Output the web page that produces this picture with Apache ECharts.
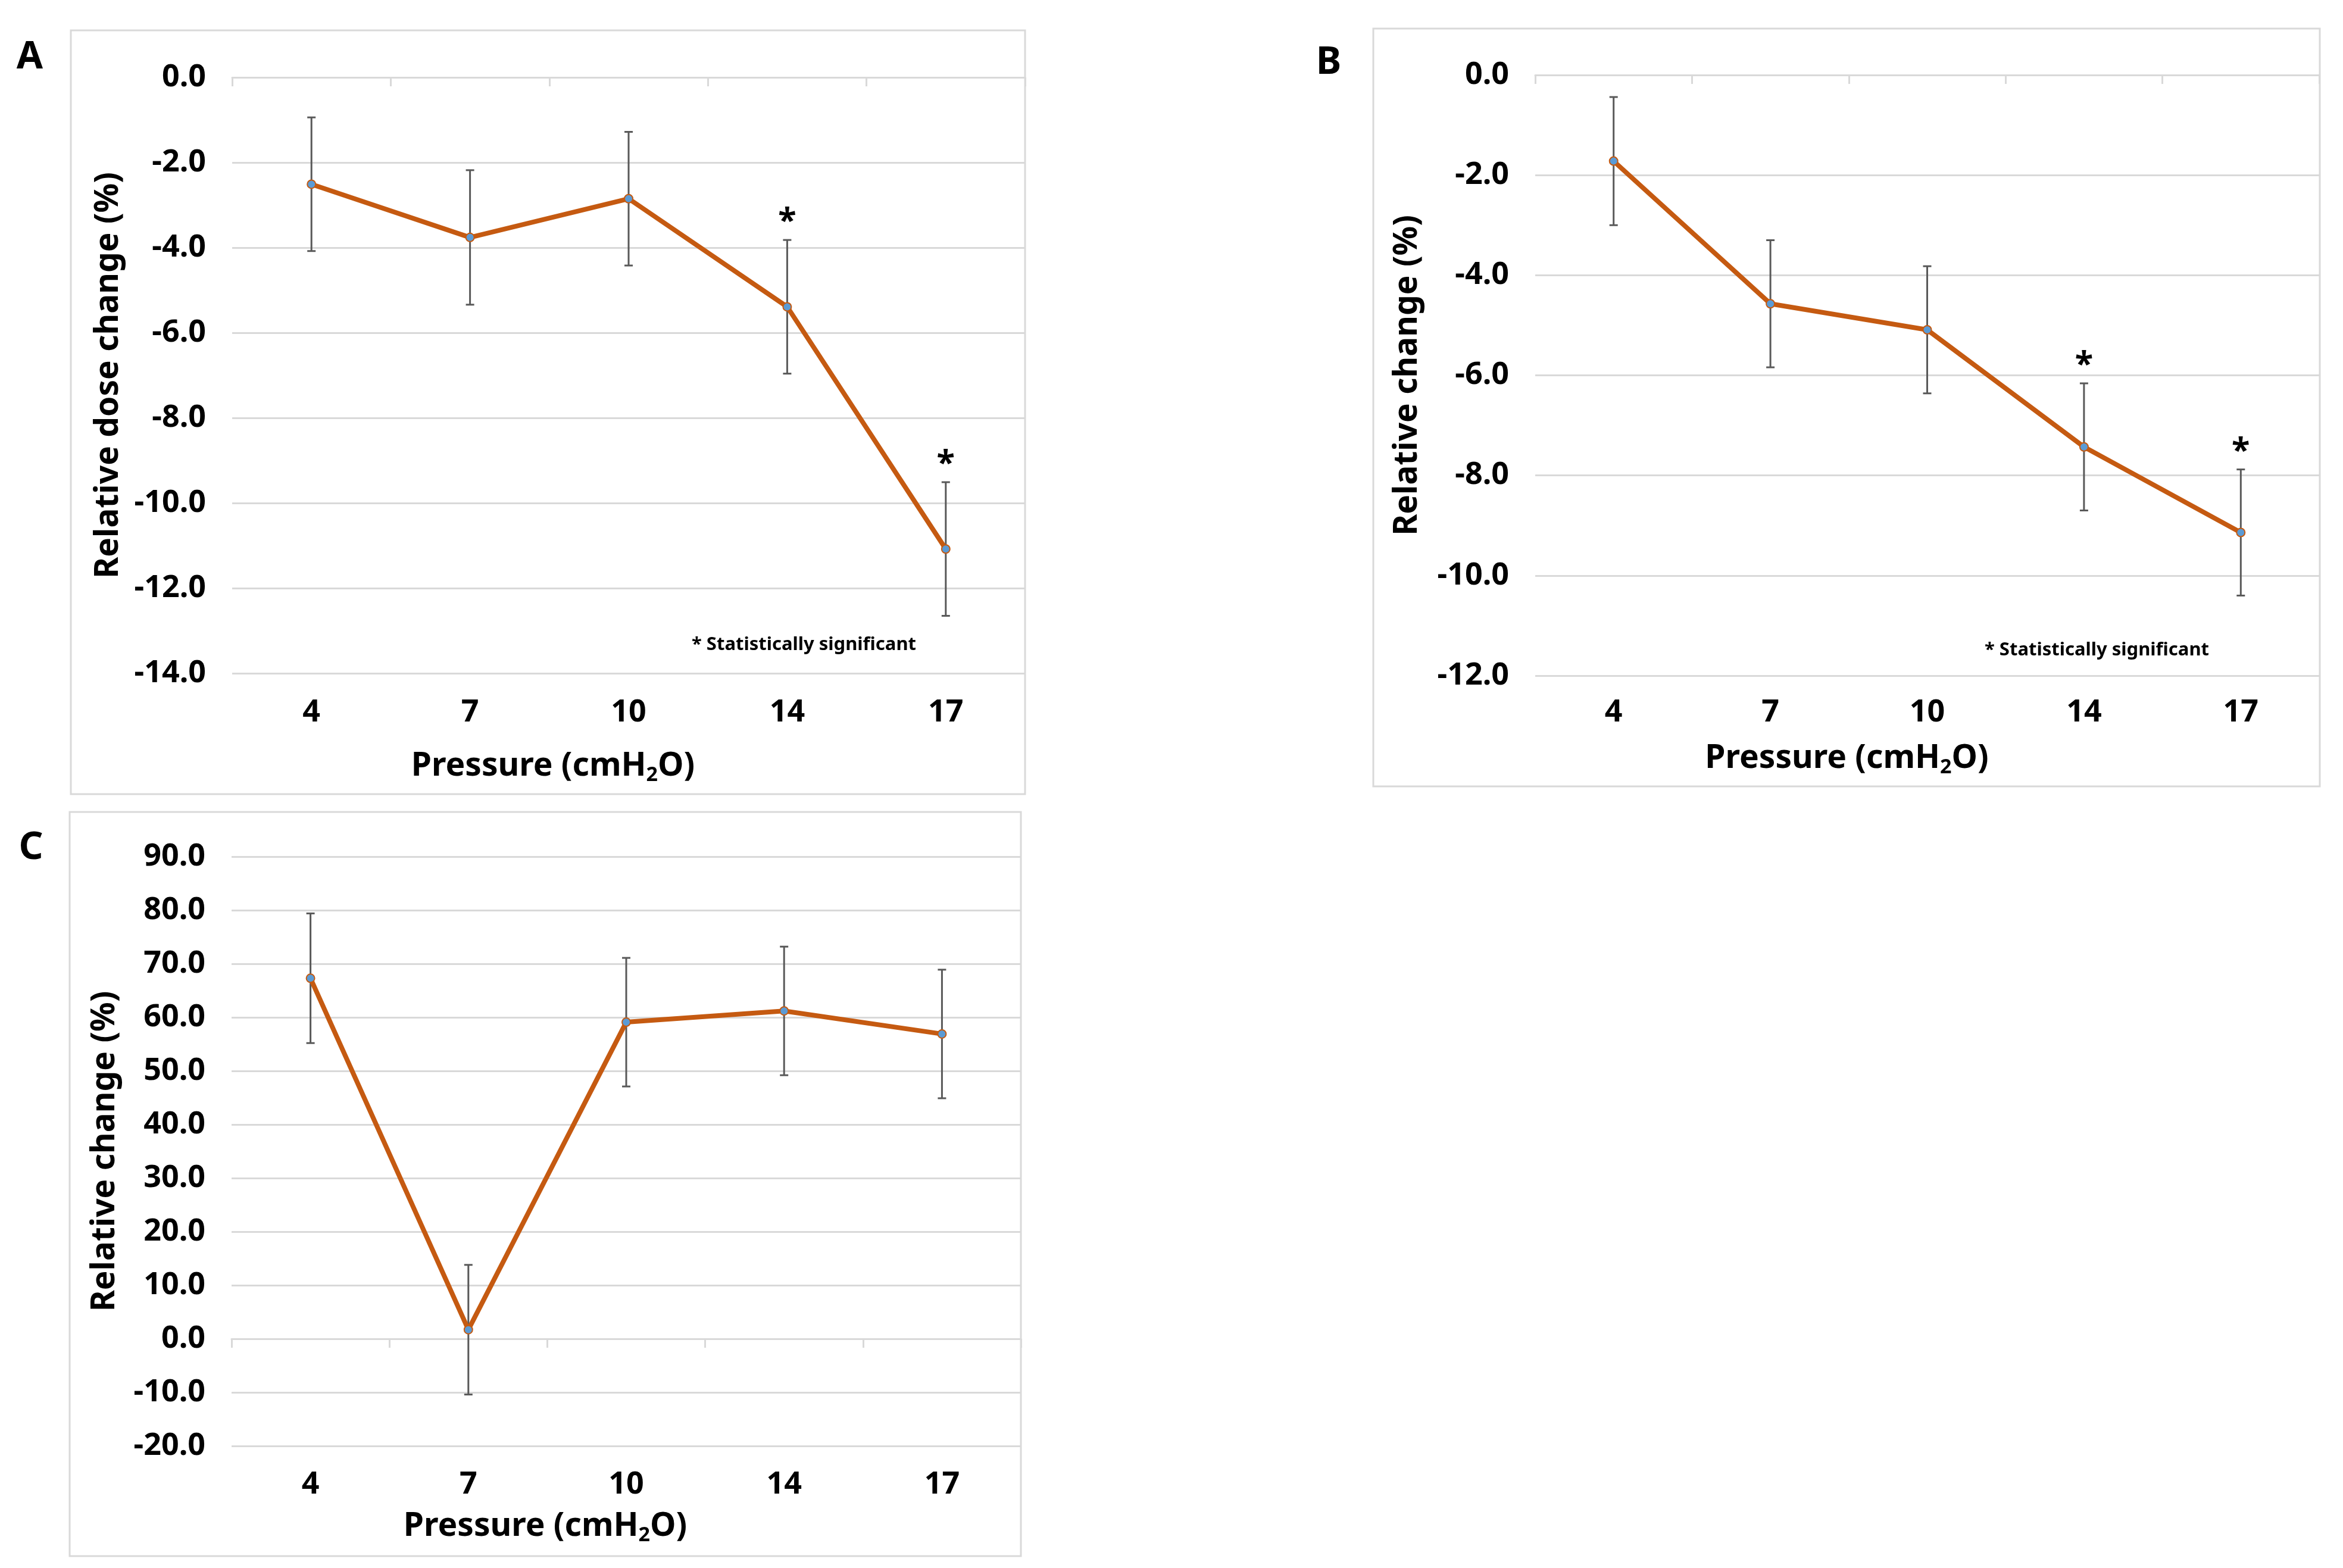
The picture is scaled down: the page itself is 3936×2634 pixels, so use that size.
<!DOCTYPE html>
<html><head><meta charset="utf-8">
<script src="https://cdn.jsdelivr.net/npm/echarts@6/dist/echarts.min.js"></script>
<style>html,body{margin:0;padding:0;background:#fff;} #c{width:3936px;height:2634px;}</style>
</head><body><div id="c"></div>
<script>
// ---- data ----
const categories = ['4', '7', '10', '14', '17'];
const valuesA = [-2.51, -3.76, -2.85, -5.39, -11.08];
const errorsA = [1.57, 1.58, 1.57, 1.57, 1.57];
const sigA = [0, 0, 0, 1, 1];
const valuesB = [-1.72, -4.57, -5.09, -7.43, -9.14];
const errorsB = [1.28, 1.27, 1.27, 1.27, 1.26];
const sigB = [0, 0, 0, 1, 1];
const valuesC = [67.3, 1.7, 59.1, 61.2, 56.9];
const errorsC = [12.1, 12.1, 12.0, 12.0, 12.0];
const sigC = [0, 0, 0, 0, 0];
const yRangeA = [-14, 0, 2];
const yRangeB = [-12, 0, 2];
const yRangeC = [-20, 90, 10];
const xTitle = 'Pressure (cmH{sub|2}O)';
const yTitles = ['Relative dose change (%)', 'Relative change (%)', 'Relative change (%)'];
const panelLetters = ['A', 'B', 'C'];
const noteText = '* Statistically significant';

// ---- style ----
const FONT = "'Noto Sans', 'DejaVu Sans', sans-serif";
const LINE = '#C55A11';
const MARK = '#5B9BD5';
const GRIDC = '#D9D9D9';
const ERRC = '#595959';

const panels = [
  {grid: {left: 390, top: 130, width: 1332, height: 1001}, y: yRangeA, vals: valuesA, errs: errorsA, sig: sigA,
   labelMargin: 40, xNameGap: 124, yNameGap: 180, xNameShift: 254},
  {grid: {left: 2579, top: 126, width: 1317, height: 1009}, y: yRangeB, vals: valuesB, errs: errorsB, sig: sigB,
   labelMargin: 36, xNameGap: 107, yNameGap: 187, xNameShift: 270},
  {grid: {left: 389, top: 1439, width: 1326, height: 990}, y: yRangeC, vals: valuesC, errs: errorsC, sig: sigC,
   labelMargin: 39, xNameGap: 103, yNameGap: 185, xNameShift: 272}
];

const grids = [], xAxes = [], yAxes = [], series = [];
panels.forEach((p, i) => {
  grids.push(Object.assign({outerBoundsMode: 'none', containLabel: false}, p.grid));
  xAxes.push({
    gridIndex: i, type: 'category', data: categories, position: 'bottom',
    axisLine: {show: false, onZero: false}, axisTick: {show: false}, splitLine: {show: false},
    axisLabel: {margin: p.labelMargin, fontSize: 52, fontWeight: 'bold', color: '#000', fontFamily: FONT},
    name: xTitle, nameLocation: 'middle', nameGap: p.xNameGap,
    nameTextStyle: {fontSize: 55, fontWeight: 'bold', color: '#000', fontFamily: FONT, lineHeight: 64,
      padding: [0, p.xNameShift, 0, 0],
      rich: {sub: {fontSize: 34, fontWeight: 'bold', color: '#000', fontFamily: FONT, lineHeight: 34, verticalAlign: 'bottom'}}}
  });
  xAxes.push({
    gridIndex: i, type: 'category', data: categories, position: 'top',
    axisLine: {show: true, onZero: true, lineStyle: {color: GRIDC, width: 3}},
    axisTick: {show: true, inside: true, length: 15, lineStyle: {color: GRIDC, width: 3}},
    axisLabel: {show: false}, splitLine: {show: false}
  });
  yAxes.push({
    gridIndex: i, type: 'value', min: p.y[0], max: p.y[1], interval: p.y[2],
    axisLine: {show: false}, axisTick: {show: false},
    splitLine: {show: true, lineStyle: {color: GRIDC, width: 3}},
    axisLabel: {formatter: v => v.toFixed(1), margin: 44, fontSize: 52, fontWeight: 'bold', color: '#000', fontFamily: FONT},
    name: yTitles[i], nameLocation: 'middle', nameGap: p.yNameGap,
    nameTextStyle: {fontSize: 55, fontWeight: 'bold', color: '#000', fontFamily: FONT}
  });
  series.push({
    type: 'custom', xAxisIndex: i * 2, yAxisIndex: i, z: 2,
    data: p.vals.map((v, k) => [k, v - p.errs[k], v + p.errs[k], p.sig[k]]),
    renderItem: function (params, api) {
      const x = api.value(0);
      const lo = api.coord([x, api.value(1)]);
      const hi = api.coord([x, api.value(2)]);
      const h = 7;
      const st = {stroke: ERRC, lineWidth: 3};
      const ch = [
        {type: 'line', shape: {x1: hi[0], y1: hi[1], x2: lo[0], y2: lo[1]}, style: st},
        {type: 'line', shape: {x1: hi[0] - h, y1: hi[1], x2: hi[0] + h, y2: hi[1]}, style: st},
        {type: 'line', shape: {x1: lo[0] - h, y1: lo[1], x2: lo[0] + h, y2: lo[1]}, style: st}
      ];
      if (api.value(3)) {
        ch.push({type: 'text', x: hi[0], y: hi[1] - 30, style: {text: '*', fill: '#000',
          font: 'bold 56px ' + FONT, align: 'center', verticalAlign: 'middle',
          textAlign: 'center', textVerticalAlign: 'middle'}});
      }
      return {type: 'group', children: ch};
    }
  });
  series.push({
    type: 'line', xAxisIndex: i * 2, yAxisIndex: i, z: 3, data: p.vals,
    lineStyle: {color: LINE, width: 8}, symbol: 'circle', symbolSize: 14,
    itemStyle: {color: MARK, borderColor: LINE, borderWidth: 2}, animation: false
  });
});

const frames = [
  {x: 119, y: 51, w: 1603, h: 1283},
  {x: 2307, y: 48, w: 1590, h: 1273},
  {x: 117, y: 1364, w: 1598, h: 1250}
];
const letterPos = [[50, 97], [2232, 106], [52, 1425]];
const notePos = [[1162, 1083], [3334, 1092]];

const graphic = [];
frames.forEach(f => graphic.push({type: 'rect', shape: {x: f.x, y: f.y, width: f.w, height: f.h},
  style: {fill: 'none', stroke: GRIDC, lineWidth: 3}, z: -10}));
panelLetters.forEach((t, i) => graphic.push({type: 'text', x: letterPos[i][0], y: letterPos[i][1],
  style: {text: t, fill: '#000', font: 'bold 64px ' + FONT, align: 'center', verticalAlign: 'middle',
    textAlign: 'center', textVerticalAlign: 'middle'}}));
notePos.forEach(p => graphic.push({type: 'text', x: p[0], y: p[1],
  style: {text: noteText, fill: '#000', font: 'bold 31px ' + FONT, align: 'left', verticalAlign: 'middle',
    textAlign: 'left', textVerticalAlign: 'middle'}}));

const chart = echarts.init(document.getElementById('c'), null, {width: 3936, height: 2634});
chart.setOption({
  animation: false, backgroundColor: '#fff',
  grid: grids, xAxis: xAxes, yAxis: yAxes, series: series, graphic: graphic
});
</script></body></html>
